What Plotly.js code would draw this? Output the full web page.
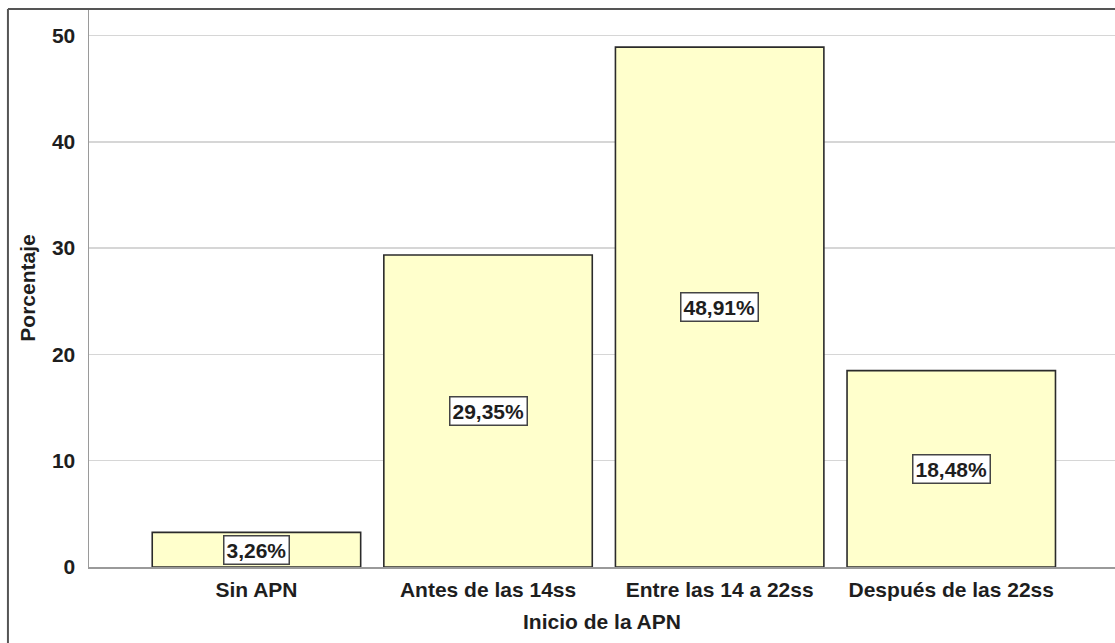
<!DOCTYPE html>
<html>
<head>
<meta charset="utf-8">
<script src="https://cdn.plot.ly/plotly-3.0.1.min.js"></script>
<style>html,body{margin:0;padding:0;background:#fff;}#chart{width:1115px;height:643px;}</style>
</head>
<body>
<div id="chart"></div>
<script>
var categories = ["Sin APN", "Antes de las 14ss", "Entre las 14 a 22ss", "Después de las 22ss"];
var percentages = [3.26, 29.35, 48.91, 18.48];
var yTicks = [0, 10, 20, 30, 40, 50];

var labels = percentages.map(function(v){ return v.toFixed(2).replace('.', ',') + '%'; });

var FONT = 'Liberation Sans, Arial, sans-serif';
var TXT = '#1e1e1e';

var trace = {
  type: 'bar',
  x: categories,
  y: percentages,
  width: 0.9,
  marker: {color: '#FFFFCC', line: {color: '#2b2b2b', width: 1.6}},
  hoverinfo: 'skip'
};

var annotations = categories.map(function(c, i){
  return {
    x: c, y: percentages[i] / 2, xref: 'x', yref: 'y',
    text: labels[i], showarrow: false,
    font: {family: FONT, size: 21, color: TXT, weight: 'bold'},
    bgcolor: '#ffffff', bordercolor: '#444', borderwidth: 1.5, borderpad: 2
  };
});

var layout = {
  width: 1115, height: 643,
  margin: {l: 89, r: 0, t: 9, b: 76},
  paper_bgcolor: '#ffffff', plot_bgcolor: '#ffffff',
  showlegend: false,
  font: {family: FONT, color: TXT, weight: 'bold'},
  xaxis: {
    type: 'category',
    range: [-0.723, 3.707],
    showgrid: false, zeroline: false,
    showline: true, linecolor: '#9a9a9a', linewidth: 1.5,
    ticks: '', ticklabelstandoff: 3,
    tickfont: {family: FONT, size: 21, color: TXT, weight: 'bold'},
    title: {text: 'Inicio de la APN', font: {family: FONT, size: 21, color: TXT, weight: 'bold'}, standoff: 14}
  },
  yaxis: {
    range: [0, 52.5],
    tickvals: yTicks, ticktext: yTicks.map(String),
    showgrid: true, gridcolor: '#d6d6d6', gridwidth: 1.5,
    zeroline: false,
    showline: true, linecolor: '#9a9a9a', linewidth: 1.5,
    ticks: '', ticklabelstandoff: 8,
    tickfont: {family: FONT, size: 21, color: TXT, weight: 'bold'},
    title: {text: 'Porcentaje', font: {family: FONT, size: 21, color: TXT, weight: 'bold'}, standoff: 10}
  },
  annotations: annotations,
  shapes: [
    {type: 'line', xref: 'paper', yref: 'paper', x0: -0.079, x1: 1.01, y0: 1, y1: 1, line: {color: '#555', width: 2}},
    {type: 'line', xref: 'paper', yref: 'paper', x0: -0.079, x1: -0.079, y0: 1, y1: -0.2, line: {color: '#555', width: 2}}
  ]
};

Plotly.newPlot('chart', [trace], layout, {displayModeBar: false, staticPlot: true});
</script>
</body>
</html>
